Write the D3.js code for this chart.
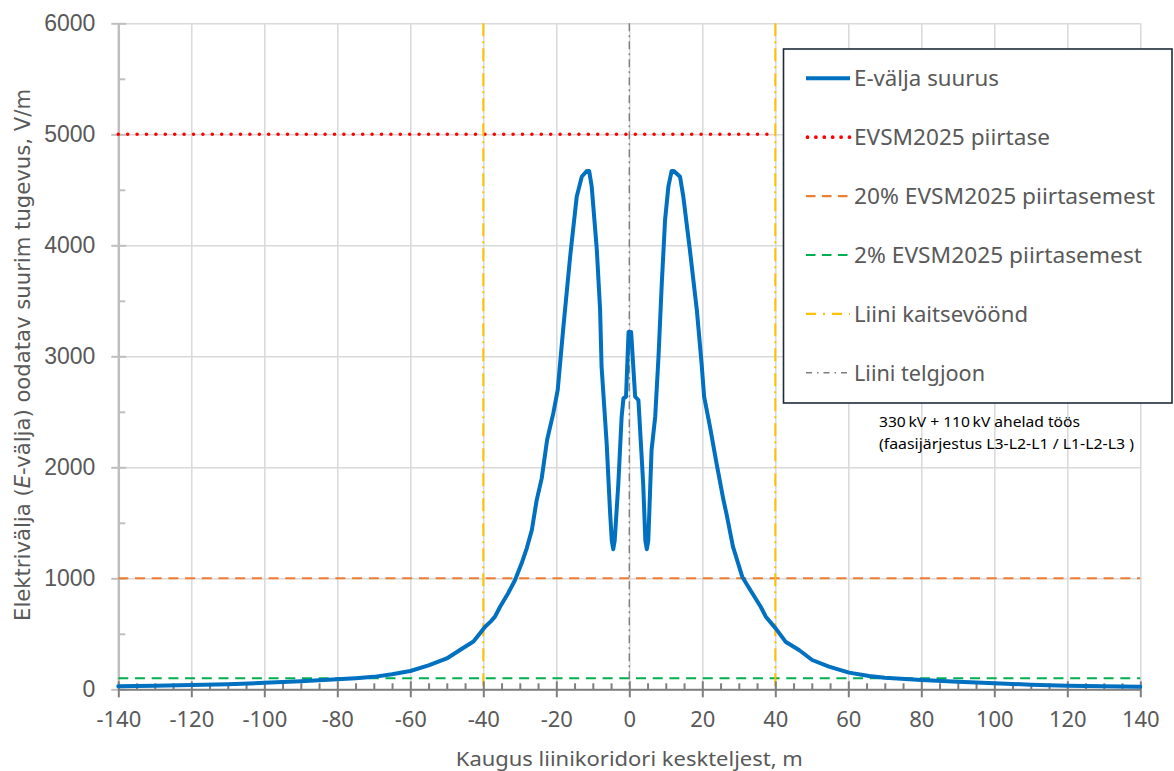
<!DOCTYPE html>
<html>
<head>
<meta charset="utf-8">
<script src="https://cdn.jsdelivr.net/npm/d3@7"></script>
<style>
  html, body { margin: 0; padding: 0; background: #fff; }
  svg { display: block; }
</style>
</head>
<body>
<svg id="chart" width="1174" height="771"></svg>
<script>
// ---------- DATA ----------
const distance = [
  -140, -130, -120, -110, -100, -90, -80, -75, -70, -65, -60, -55, -50, -46.4, -42.7, -40.9, -39.5, -38, -36.8,
  -35.4, -33.2, -31.3, -29.5, -28.1, -26.7, -25.4, -24.0, -22.5, -20.8, -19.6, -18.1, -16.2, -14.4, -13.0,
  -11.6, -11.0, -10.3, -8.9, -8.0, -7.6, -6.2, -5.3, -4.8, -4.4, -4.0, -3.0, -2.1, -1.6, -0.9, -0.4, -0.2, 0.5, 1.6, 2.5,
  3.8, 4.4, 4.8, 5.2, 6.1, 7.1, 8.0, 8.9, 9.8, 10.7, 11.6, 12.2, 13.9, 14.8, 16.6, 18.5, 19.8, 20.5, 22.1, 23.9, 25.8,
  26.6, 28.4, 31.0, 33.7, 36.0, 37.4, 40.1, 42.8, 46.5, 50.1, 54.7, 60.2, 65.7, 70, 80, 90, 100, 110,
  120, 130, 140
];
const efield = [
  28, 32, 38, 46, 58, 72, 90, 100, 112, 135, 165, 215, 278, 354, 430, 504, 564, 610, 654,
  744, 865, 985, 1135, 1270, 1435, 1700, 1900, 2250, 2490, 2700, 3250, 3900, 4440, 4620,
  4670, 4670, 4530, 3960, 3420, 2910, 2216, 1615, 1340, 1262, 1340, 1856, 2456, 2622, 2636, 3057, 3220, 3220, 2636, 2606,
  1856, 1340, 1262, 1340, 2156, 2456, 2996, 3657, 4228, 4528, 4670, 4670, 4618, 4438, 3958, 3417, 2937, 2636, 2366, 2036, 1705,
  1585, 1285, 1009, 865, 744, 654, 549, 429, 354, 264, 204, 150, 120, 105, 84, 68, 54, 42,
  33, 27, 23
];
const xTicks = [-140, -120, -100, -80, -60, -40, -20, 0, 20, 40, 60, 80, 100, 120, 140];
const yTicks = [0, 1000, 2000, 3000, 4000, 5000, 6000];
const limitLevel = [5000];          // EVSM2025 piirtase
const pct20Level = [1000];          // 20%
const pct2Level = [100];            // 2%
const zoneEdges = [-40, 40];        // Liini kaitsevöönd
const axisCenter = [0];             // Liini telgjoon
const legendLabels = [
  "E-välja suurus",
  "EVSM2025 piirtase",
  "20% EVSM2025 piirtasemest",
  "2% EVSM2025 piirtasemest",
  "Liini kaitsevöönd",
  "Liini telgjoon"
];
const noteLines = ["330\u2009kV + 110\u2009kV ahelad töös", "(faasijärjestus L3-L2-L1 / L1-L2-L3 )"];
const xTitle = "Kaugus liinikoridori keskteljest, m";

// ---------- LAYOUT ----------
const svg = d3.select("#chart");
const L = 118.3, R = 1140.3, T = 23.3, B = 689.3;
const x = d3.scaleLinear().domain([-140, 140]).range([L, R]);
const y = d3.scaleLinear().domain([0, 6000]).range([B, T]);

const textColor = "#595959";

// gridlines
svg.append("g").attr("transform", `translate(0,${B})`)
  .call(d3.axisBottom(x).tickValues(xTicks).tickSize(-(B - T)).tickFormat(""))
  .call(g => g.select(".domain").remove())
  .call(g => g.selectAll("line").attr("stroke", "#d9d9d9").attr("stroke-width", 1.5));
svg.append("g").attr("transform", `translate(${L},0)`)
  .call(d3.axisLeft(y).tickValues(yTicks).tickSize(-(R - L)).tickFormat(""))
  .call(g => g.select(".domain").remove())
  .call(g => g.selectAll("line").attr("stroke", "#d9d9d9").attr("stroke-width", 1.5));

// Y axis
const yMinor = d3.range(500, 6000, 1000);
svg.append("g").attr("transform", `translate(${L},0)`)
  .call(d3.axisLeft(y).tickValues(yMinor).tickSize(-7).tickFormat(""))
  .call(g => g.select(".domain").remove())
  .call(g => g.selectAll("line").attr("stroke", "#bfbfbf").attr("stroke-width", 2));
svg.append("g").attr("transform", `translate(${L},0)`)
  .call(d3.axisLeft(y).tickValues(yTicks).tickSize(7).tickPadding(16).tickSizeOuter(0).tickFormat(d => String(d)))
  .call(g => g.select(".domain").attr("stroke", "#bfbfbf").attr("stroke-width", 2.5))
  .call(g => g.selectAll(".tick line").attr("stroke", "#bfbfbf").attr("stroke-width", 2).attr("x2", 8).attr("x1", -7))
  .call(g => g.selectAll("text").attr("fill", textColor)
    .style("font-family", "'Liberation Sans', Arial, sans-serif").style("font-size", "23px"));

// reference lines
svg.append("g").selectAll("line").data(limitLevel).join("line")
  .attr("x1", L).attr("x2", x(40)).attr("y1", d => y(d)).attr("y2", d => y(d))
  .attr("stroke", "#ff0000").attr("stroke-width", 3.6).attr("stroke-linecap", "round")
  .attr("stroke-dasharray", "0 9.4");
svg.append("g").selectAll("line").data(pct20Level).join("line")
  .attr("x1", L).attr("x2", R).attr("y1", d => y(d)).attr("y2", d => y(d))
  .attr("stroke", "#ed7d31").attr("stroke-width", 2).attr("stroke-dasharray", "10 6.7");
svg.append("g").selectAll("line").data(pct2Level).join("line")
  .attr("x1", L).attr("x2", R).attr("y1", d => y(d)).attr("y2", d => y(d))
  .attr("stroke", "#00b050").attr("stroke-width", 2).attr("stroke-dasharray", "10 6.7");
svg.append("g").selectAll("line").data(zoneEdges).join("line")
  .attr("x1", d => x(d)).attr("x2", d => x(d)).attr("y1", T).attr("y2", B)
  .attr("stroke", "#ffc000").attr("stroke-width", 2).attr("stroke-dasharray", "13 5 2 5");
svg.append("g").selectAll("line").data(axisCenter).join("line")
  .attr("x1", d => x(d)).attr("x2", d => x(d)).attr("y1", T).attr("y2", B)
  .attr("stroke", "#7f7f7f").attr("stroke-width", 1.4).attr("stroke-dasharray", "8 4 2 4");

// X axis
const xMinor = d3.range(-135, 140, 5).filter(v => v % 20 !== 0);
svg.append("g").attr("transform", `translate(0,${B})`)
  .call(d3.axisBottom(x).tickValues(xMinor).tickSize(-6).tickFormat(""))
  .call(g => g.select(".domain").remove())
  .call(g => g.selectAll("line").attr("stroke", "#7f7f7f").attr("stroke-width", 2));
svg.append("g").attr("transform", `translate(0,${B})`)
  .call(d3.axisBottom(x).tickValues(xTicks).tickSize(8).tickPadding(14).tickSizeOuter(0).tickFormat(d => String(d)))
  .call(g => g.select(".domain").attr("stroke", "#7f7f7f").attr("stroke-width", 2))
  .call(g => g.selectAll(".tick line").attr("stroke", "#7f7f7f").attr("stroke-width", 2).attr("y1", -8).attr("y2", 8))
  .call(g => g.selectAll("text").attr("fill", textColor)
    .style("font-family", "'Noto Sans', sans-serif").style("font-size", "22px"));

// curve
const line = d3.line().x((d, i) => x(distance[i])).y((d, i) => y(efield[i]));
svg.append("path").datum(efield)
  .attr("d", line).attr("fill", "none")
  .attr("stroke", "#0070c0").attr("stroke-width", 4)
  .attr("stroke-linejoin", "round").attr("stroke-linecap", "round");

// axis titles
svg.append("text").attr("x", (L + R) / 2).attr("y", 766).attr("text-anchor", "middle")
  .attr("fill", textColor).style("font-family", "'Noto Sans', sans-serif").style("font-size", "20.5px")
  .attr("textLength", 347).attr("lengthAdjust", "spacingAndGlyphs")
  .text(xTitle);

const yt = svg.append("text")
  .attr("transform", "translate(30,355) rotate(-90)")
  .attr("text-anchor", "middle").attr("fill", textColor)
  .style("font-family", "'Liberation Sans Narrow', 'DejaVu Sans Condensed', 'Liberation Sans', sans-serif")
  .style("font-size", "21px")
  .attr("textLength", 532).attr("lengthAdjust", "spacingAndGlyphs");
yt.append("tspan").text("Elektriväljа (");
yt.append("tspan").style("font-style", "italic").text("E");
yt.append("tspan").text("-välja) oodatav suurim tugevus, V/m");

// legend
const lg = svg.append("g");
lg.append("rect").attr("x", 783.5).attr("y", 49).attr("width", 388.5).attr("height", 354)
  .attr("fill", "#fff").attr("stroke", "#1f2a3a").attr("stroke-width", 1.6);
const rowY = i => 78.3 + i * 58.9;
const styles = [
  {c: "#0070c0", w: 4, d: null, cap: "butt"},
  {c: "#ff0000", w: 3.8, d: "0 8.4", cap: "round"},
  {c: "#ed7d31", w: 2.2, d: "9.5 6.5", cap: "butt"},
  {c: "#00b050", w: 2.2, d: "9.5 6.5", cap: "butt"},
  {c: "#ffc000", w: 2.2, d: "10 7 2 7", cap: "butt"},
  {c: "#7f7f7f", w: 1.6, d: "6 5 1.5 5", cap: "butt"}
];
const legendWidths = [145, 196, 301, 288, 174, 131];
legendLabels.forEach((lab, i) => {
  const s = styles[i];
  lg.append("line").attr("x1", i === 1 ? 807.5 : 806).attr("x2", 850).attr("y1", rowY(i)).attr("y2", rowY(i))
    .attr("stroke", s.c).attr("stroke-width", s.w).attr("stroke-linecap", s.cap)
    .attr("stroke-dasharray", s.d);
  lg.append("text").attr("x", 854).attr("y", rowY(i)).attr("dy", "0.35em")
    .attr("fill", textColor).style("font-family", "'Noto Sans', sans-serif").style("font-size", "22px")
    .attr("textLength", legendWidths[i]).attr("lengthAdjust", "spacingAndGlyphs")
    .text(lab);
});

// annotation
const noteWidths = [201, 255];
noteLines.forEach((t, i) => {
  svg.append("text").attr("x", 879).attr("y", 427 + i * 21.5)
    .attr("fill", "#000").style("font-family", "'Noto Sans', sans-serif").style("font-size", "14.5px")
    .attr("textLength", noteWidths[i]).attr("lengthAdjust", "spacingAndGlyphs")
    .text(t);
});
</script>
</body>
</html>
